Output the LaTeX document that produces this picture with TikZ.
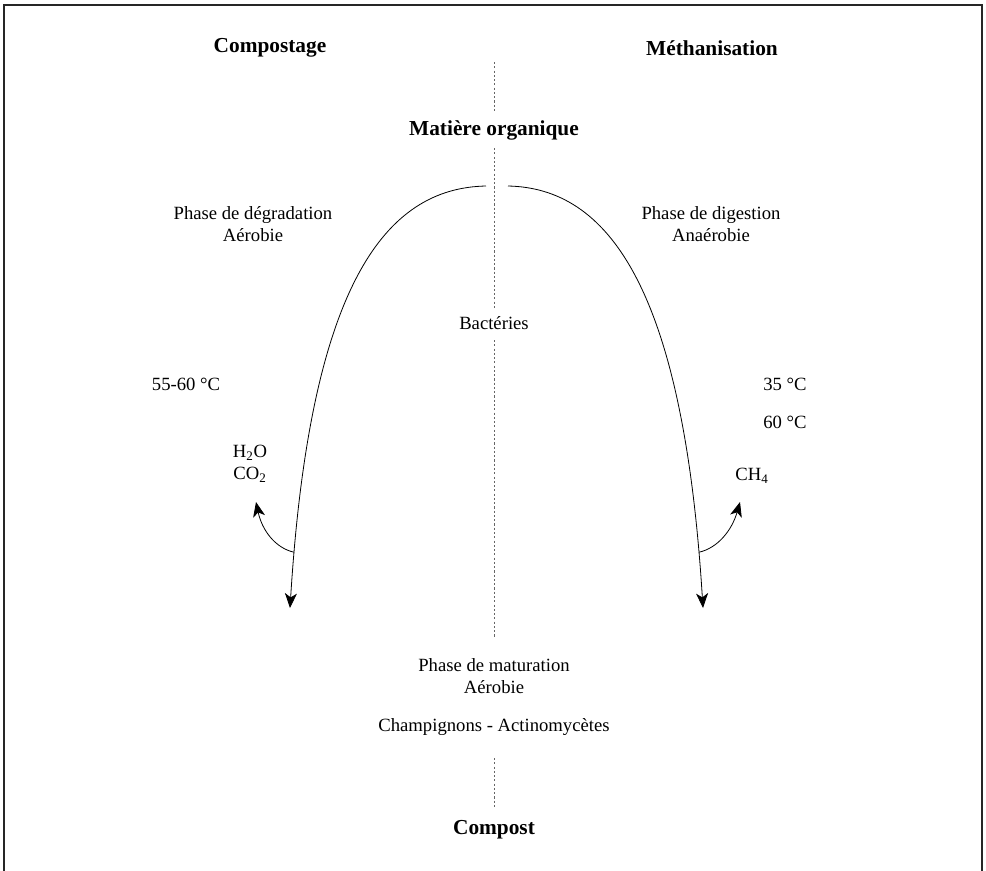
\documentclass[tikz,border=0pt]{standalone}
\usepackage{fontspec}
\setmainfont{Liberation Serif}
\usetikzlibrary{arrows.meta}
\begin{document}
\begin{tikzpicture}[x=0.75pt,y=-0.75pt,
  txt/.style={font=\fontsize{14}{16.5}\selectfont, align=center, inner sep=0pt},
  ttl/.style={font=\fontsize{16}{19}\selectfont\bfseries, inner sep=0pt},
  sep/.style={dash pattern=on 1.6pt off 1.6pt, black!60, line width=0.7pt},
  flow/.style={line width=0.6pt, -{Stealth[length=11pt,width=9pt,inset=3pt]}},
  frame/.style={line width=1.1pt, black!85}]
\useasboundingbox (0,0) rectangle (986,871);
\draw[frame] (4,871) -- (4,5) -- (982,5) -- (982,871);

\node[ttl] (comp) at (270,48) {Compostage};
\node[ttl] (meth) at (712,48) {Méthanisation};
\node[ttl] (mo) at (494,130) {Matière organique};
\node[txt] (degr) at (253,224) {Phase de dégradation\\Aérobie};
\node[txt] (dige) at (711,224) {Phase de digestion\\Anaérobie};
\node[txt] (bact) at (494,323) {Bactéries};
\node[txt] (t1) at (186,384) {55-60 °C};
\node[txt] (t2) at (785,384) {35 °C};
\node[txt] (t3) at (785,422) {60 °C};
\node[txt] (gas1) at (250,464) {H\textsubscript{2}O\\CO\textsubscript{2}};
\node[txt] (gas2) at (752,476) {CH\textsubscript{4}};
\node[txt] (mat) at (494,676) {Phase de maturation\\Aérobie};
\node[txt] (champ) at (494,727) {Champignons - Actinomycètes};
\node[ttl] (cpst) at (494,830) {Compost};

\coordinate (top) at (494,62);
\coordinate (ls) at (486,186);
\coordinate (rs) at (508,186);
\coordinate (le) at (290,608);
\coordinate (re) at (703,608);
\coordinate (lg) at (256,502);
\coordinate (rg) at (740,502);

\draw[sep] (top) -- ([yshift=17*0.75pt]mo.center);
\draw[sep] ([yshift=-18*0.75pt]mo.center) -- ([yshift=15*0.75pt]bact.center);
\draw[sep] ([yshift=-17*0.75pt]bact.center) -- ([yshift=39*0.75pt]mat.center);
\draw[sep] ([yshift=-31*0.75pt]champ.center) -- ([yshift=22*0.75pt]cpst.center);

\draw[flow] (ls) .. controls (385,188) and (310,285) .. (le) coordinate[pos=0.94] (lb);
\draw[flow] (rs) .. controls (607,188) and (683,285) .. (re) coordinate[pos=0.94] (rb);

\draw[flow] (lb) .. controls (275,548) and (262,530) .. (lg);
\draw[flow] (rb) .. controls (718,548) and (732,530) .. (rg);
\end{tikzpicture}
\end{document}
